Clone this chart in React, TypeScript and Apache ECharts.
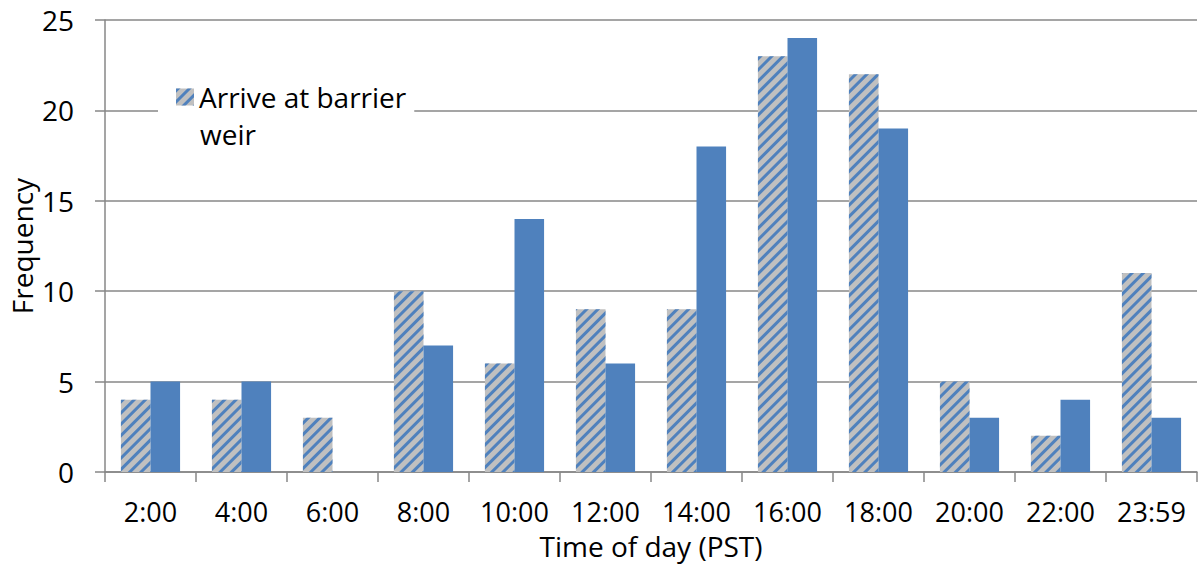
import React, { useEffect, useRef } from "react";
import * as echarts from "echarts";

const categories = ["2:00", "4:00", "6:00", "8:00", "10:00", "12:00", "14:00", "16:00", "18:00", "20:00", "22:00", "23:59"];
const arriveAtWeir = [4, 4, 3, 10, 6, 9, 9, 23, 22, 5, 2, 11];
const secondSeries = [5, 5, 0, 7, 14, 6, 18, 24, 19, 3, 4, 3];
const yTicks = { min: 0, max: 25, interval: 5 };

const FONT = "Open Sans";
const AXIS_GRAY = "#878787";
const BLUE = "#4f81bd";

export default function App() {
  const ref = useRef<HTMLDivElement>(null);

  useEffect(() => {
    if (!ref.current) return;
    const chart = echarts.init(ref.current, undefined, { renderer: "svg" });
    chart.setOption({
      animation: false,
      backgroundColor: "#fff",
      textStyle: { fontFamily: FONT, color: "#000" },
      grid: { left: 105, right: 1, top: 20, bottom: 92, outerBoundsMode: "none", containLabel: false },
      legend: {
        data: ["Arrive at barrier weir"],
        left: 158,
        top: 72,
        padding: [6, 8, 48, 18],
        backgroundColor: "#fff",
        icon: "rect",
        itemWidth: 18,
        itemHeight: 17,
        itemGap: 6,
        formatter: () => "Arrive at barrier",
        textStyle: { fontFamily: FONT, fontSize: 28, lineHeight: 38, color: "#000" },
      },
      graphic: [
        {
          type: "text",
          left: 200,
          top: 120,
          z: 100,
          style: { text: "weir", fontFamily: FONT, fontSize: 28, fill: "#000" },
        },
      ],
      xAxis: {
        type: "category",
        data: categories,
        name: "Time of day (PST)",
        nameLocation: "middle",
        nameGap: 60,
        nameMoveOverlap: false,
        nameTextStyle: { fontFamily: FONT, fontSize: 28, lineHeight: 28, color: "#000" },
        axisLine: { lineStyle: { color: AXIS_GRAY, width: 1.5 } },
        axisTick: { show: true, interval: 0, length: 10, lineStyle: { color: AXIS_GRAY, width: 1.5 } },
        axisLabel: { interval: 0, hideOverlap: false, fontFamily: FONT, fontSize: 27, color: "#000", margin: 26 },
      },
      yAxis: {
        type: "value",
        min: yTicks.min,
        max: yTicks.max,
        interval: yTicks.interval,
        name: "Frequency",
        nameLocation: "middle",
        nameGap: 69,
        nameMoveOverlap: false,
        nameTextStyle: { fontFamily: FONT, fontSize: 28, lineHeight: 28, color: "#000" },
        axisLine: { show: true, lineStyle: { color: AXIS_GRAY, width: 1.5 } },
        axisTick: { show: true, length: 10, lineStyle: { color: AXIS_GRAY, width: 1.5 } },
        axisLabel: { fontFamily: FONT, fontSize: 28, color: "#000", margin: 31 },
        splitLine: { lineStyle: { color: AXIS_GRAY, width: 1.5 } },
      },
      series: [
        {
          name: "Arrive at barrier weir",
          type: "bar",
          data: arriveAtWeir,
          barGap: "0%",
          barCategoryGap: "35%",
          itemStyle: {
            color: "#c0c0c0",
            decal: {
              symbol: "rect",
              color: BLUE,
              dashArrayX: [1, 0],
              dashArrayY: [3, 4.5],
              rotation: -Math.PI / 4,
            },
          },
        },
        {
          name: "Depart",
          type: "bar",
          data: secondSeries,
          barGap: "0%",
          barCategoryGap: "35%",
          itemStyle: { color: BLUE },
        },
      ],
    });
    return () => chart.dispose();
  }, []);

  return <div ref={ref} style={{ position: "fixed", left: 0, top: 0, width: 1198, height: 564 }} />;
}
